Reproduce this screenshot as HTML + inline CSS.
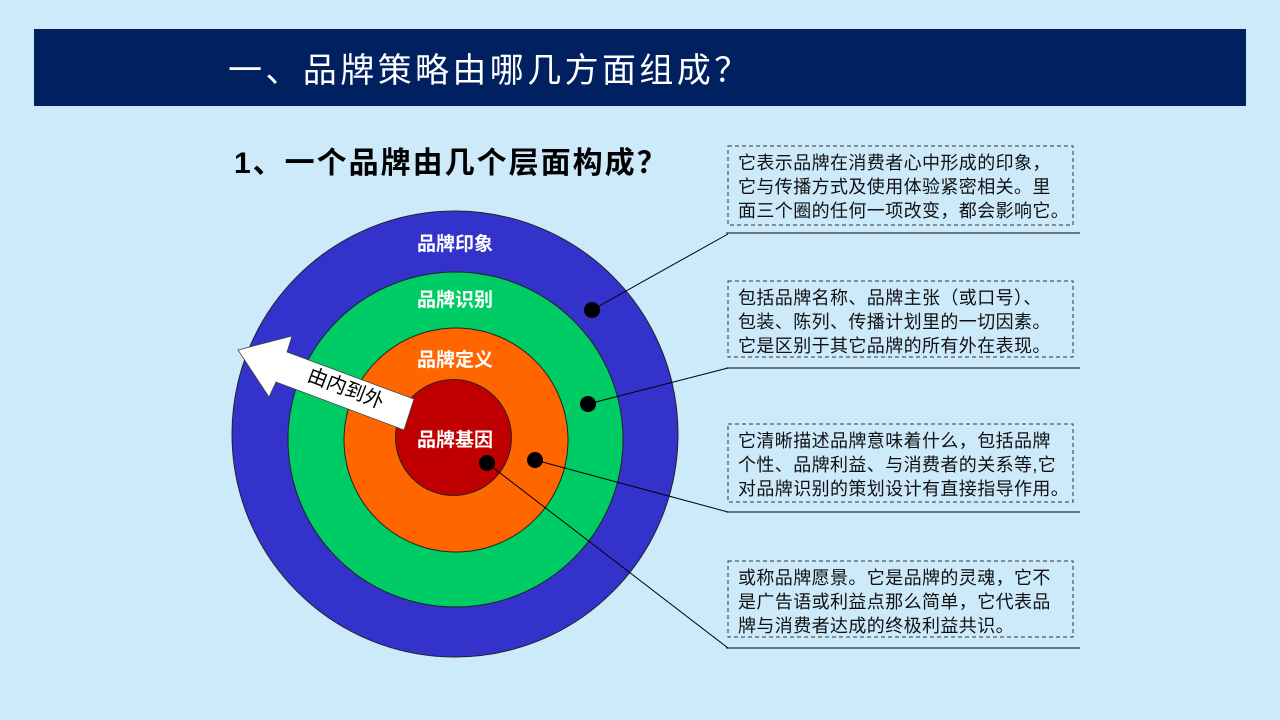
<!DOCTYPE html>
<html><head><meta charset="utf-8"><style>
html,body{margin:0;padding:0;background:#cdeafb;}
svg{display:block}
text{font-family:"Liberation Sans","Noto Sans CJK SC",sans-serif;}
</style></head><body>
<svg width="1280" height="720" viewBox="0 0 1280 720" xmlns="http://www.w3.org/2000/svg">
<rect width="1280" height="720" fill="#cdeafb"/>
<rect x="34" y="29" width="1212" height="77" fill="#002060"/>
<text x="228" y="82" font-size="34" fill="#fff" letter-spacing="3.4">一、品牌策略由哪几方面组成？</text>
<text x="234" y="173" font-size="30" font-weight="bold" fill="#000" letter-spacing="2">1、一个品牌由几个层面构成？</text>

<circle cx="455" cy="434" r="223" fill="#3333cc" stroke="#222" stroke-width="1"/>
<circle cx="455.5" cy="439.5" r="167.5" fill="#00cc66" stroke="#222" stroke-width="1"/>
<circle cx="456" cy="440" r="112" fill="#ff6600" stroke="#222" stroke-width="1"/>
<circle cx="453.5" cy="437.5" r="58" fill="#c00000" stroke="#222" stroke-width="1"/>

<g font-size="19" font-weight="bold" fill="#fff" text-anchor="middle">
<text x="455" y="250">品牌印象</text>
<text x="455" y="306">品牌识别</text>
<text x="455" y="366">品牌定义</text>
<text x="455" y="446">品牌基因</text>
</g>

<polygon points="238,350 292,336 287,352 414,399 404,430 276,382 269,397" fill="#fff" stroke="#444" stroke-width="0.8"/>
<text x="346" y="395" font-size="20" fill="#000" text-anchor="middle" transform="rotate(21 346 388)">由内到外</text>

<g stroke="#000" stroke-width="1" fill="none">
<line x1="592" y1="310" x2="728" y2="234"/>
<line x1="588" y1="404" x2="728" y2="368"/>
<line x1="535" y1="460" x2="728" y2="512"/>
<line x1="487" y1="463" x2="728" y2="648"/>
<line x1="726" y1="233" x2="1080" y2="233"/>
<line x1="726" y1="368" x2="1080" y2="368"/>
<line x1="726" y1="512" x2="1080" y2="512"/>
<line x1="726" y1="648" x2="1080" y2="648"/>
</g>
<g fill="#000">
<circle cx="592" cy="310" r="8"/>
<circle cx="588" cy="404" r="8"/>
<circle cx="535" cy="460" r="8"/>
<circle cx="487" cy="463" r="8"/>
</g>

<g fill="none" stroke="#333" stroke-width="1" stroke-dasharray="4,3">
<rect x="728" y="146" width="345" height="79"/>
<rect x="728" y="281" width="345" height="76"/>
<rect x="728" y="424" width="345" height="78"/>
<rect x="728" y="561" width="345" height="76"/>
</g>
<g font-size="18" fill="#111" letter-spacing="0.4">
<text x="738" y="169">它表示品牌在消费者心中形成的印象，</text>
<text x="738" y="193">它与传播方式及使用体验紧密相关。里</text>
<text x="738" y="217">面三个圈的任何一项改变，都会影响它。</text>
<text x="738" y="304">包括品牌名称、品牌主张（或口号）、</text>
<text x="738" y="328">包装、陈列、传播计划里的一切因素。</text>
<text x="738" y="352">它是区别于其它品牌的所有外在表现。</text>
<text x="738" y="447">它清晰描述品牌意味着什么，包括品牌</text>
<text x="738" y="471">个性、品牌利益、与消费者的关系等,它</text>
<text x="738" y="495">对品牌识别的策划设计有直接指导作用。</text>
<text x="738" y="584">或称品牌愿景。它是品牌的灵魂，它不</text>
<text x="738" y="608">是广告语或利益点那么简单，它代表品</text>
<text x="738" y="632">牌与消费者达成的终极利益共识。</text>
</g>
</svg>
</body></html>
